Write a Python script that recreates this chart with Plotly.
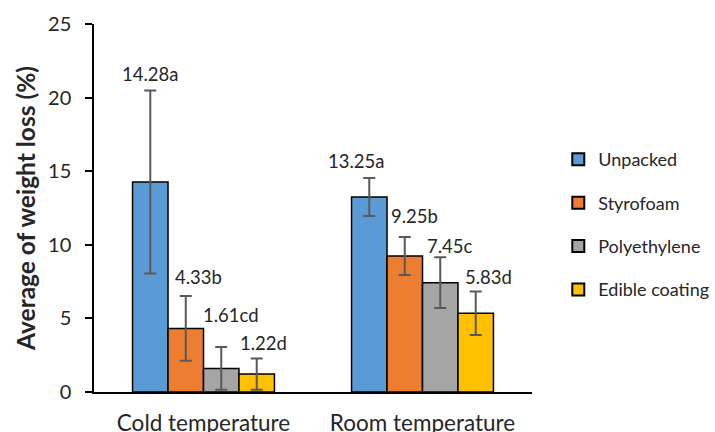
import plotly.graph_objects as go

categories = ["Cold temperature", "Room temperature"]
series_names = ["Unpacked", "Styrofoam", "Polyethylene", "Edible coating"]
unpacked = [14.27, 13.25]
styrofoam = [4.32, 9.24]
polyethylene = [1.60, 7.43]
edible = [1.22, 5.35]
unpacked_err = [6.22, 1.29]
styrofoam_err = [2.20, 1.29]
polyethylene_err = [1.45, 1.72]
edible_err = [1.06, 1.47]
label_text = [
    ["14.28a", "13.25a"],
    ["4.33b", "9.25b"],
    ["1.61cd", "7.45c"],
    ["1.22d", "5.83d"],
]

values = [unpacked, styrofoam, polyethylene, edible]
errors = [unpacked_err, styrofoam_err, polyethylene_err, edible_err]
colors = ["#5B9BD5", "#ED7D31", "#A5A5A5", "#FFC000"]

# label offsets (style): pixel shifts relative to bar centre / error top
label_dx = [[0, -13], [13, 10], [10, 10], [7, 13]]
label_dy = [[16, 17], [19, 21], [32, 11], [15, 15]]

FONT = "Lato"
bargap = 0.352

fig = go.Figure()
for i, name in enumerate(series_names):
    fig.add_trace(go.Bar(
        name=name, x=categories, y=values[i],
        marker=dict(color=colors[i], line=dict(color="black", width=1.5)),
        error_y=dict(type="data", array=errors[i], color="#595959", thickness=2, width=6),
        legendgroup=name,
    ))

bw = (1 - bargap) / len(series_names)
for i in range(len(series_names)):
    for ci in range(len(categories)):
        fig.add_annotation(
            x=ci + (i - 1.5) * bw, y=values[i][ci] + errors[i][ci],
            xref="x", yref="y", text=label_text[i][ci], showarrow=False,
            xshift=label_dx[i][ci], yshift=label_dy[i][ci],
            font=dict(family=FONT, size=18.5, color="#262626"),
        )

fig.update_layout(
    width=715, height=432,
    margin=dict(l=94, r=183, t=24, b=40, autoexpand=False),
    paper_bgcolor="white", plot_bgcolor="white",
    barmode="group", bargap=bargap, bargroupgap=0,
    font=dict(family=FONT, color="#262626"),
    showlegend=True,
    legend=dict(x=1.06, y=0.455, xanchor="left", yanchor="middle",
                font=dict(family=FONT, size=18, color="#262626"),
                tracegroupgap=17, itemsizing="constant"),
    xaxis=dict(showline=True, linecolor="black", linewidth=1.5,
               ticks="outside", ticklen=10, tickcolor="rgba(0,0,0,0)",
               tickfont=dict(family=FONT, size=22.5, color="#262626"),
               showgrid=False, automargin=False),
    yaxis=dict(range=[0, 25], dtick=5, showline=True, linecolor="black", linewidth=1.5,
               ticks="outside", ticklen=7, tickcolor="black", tickwidth=1.5,
               ticklabelstandoff=10, automargin=False,
               tickfont=dict(family=FONT, size=20, color="#262626"),
               showgrid=False, zeroline=False,
               title=dict(text="Average of weight loss (%)", standoff=5,
                          font=dict(family=FONT, size=24.5, color="#262626", weight="bold"))),
)

fig.write_html("out.html", config={"displayModeBar": False},
               post_script="document.body.style.margin='0';document.body.style.overflow='hidden';")
